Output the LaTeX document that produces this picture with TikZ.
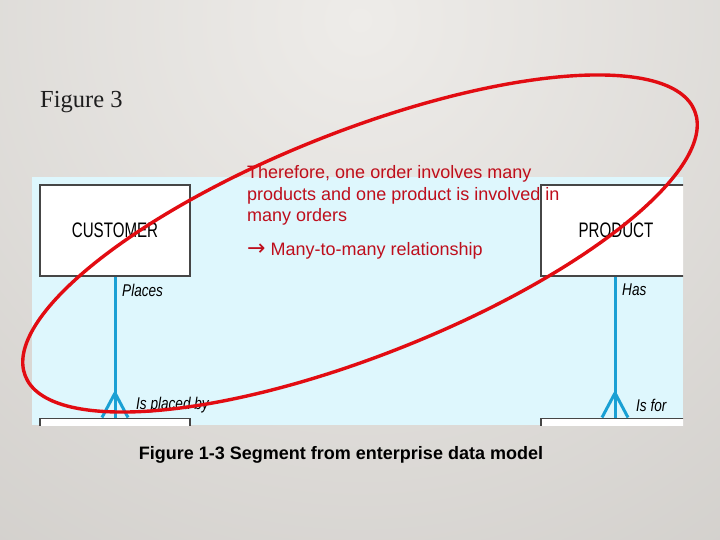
\documentclass[tikz,border=0pt]{standalone}
\usepackage{fontspec}
\setmainfont{Liberation Sans}
\newfontfamily\timesface{Liberation Serif}
\newfontfamily\arrowface{DejaVu Sans}
\newfontfamily\narrowface[FakeStretch=0.72]{Liberation Sans}
\newfontfamily\narrowit[FakeStretch=0.8]{Liberation Sans Italic}
\usetikzlibrary{calc}
\definecolor{bgin}{RGB}{238,236,233}
\definecolor{bgout}{RGB}{201,198,194}
\definecolor{panelblue}{RGB}{222,247,253}
\definecolor{relblue}{RGB}{26,160,212}
\definecolor{notered}{RGB}{190,14,28}
\definecolor{ringred}{RGB}{226,12,18}
\definecolor{boxgray}{RGB}{70,70,70}
\definecolor{figtext}{RGB}{30,30,30}

\begin{document}
\begin{tikzpicture}[x=1pt,y=-1pt,
    entity/.style={draw=boxgray,line width=1.3pt,fill=white,minimum width=150pt,
      minimum height=91pt,inner sep=0pt,font=\narrowface\fontsize{21}{21}\selectfont},
    relline/.style={draw=relblue,line width=3pt},
    rolelbl/.style={anchor=west,inner sep=0pt,font=\narrowit\fontsize{17}{17}\selectfont},
    note/.style={anchor=base west,inner sep=0pt,text=notered,font=\fontsize{18}{21}\selectfont},
    ring/.style={draw=ringred,line width=3.4pt}]
  \useasboundingbox (0,0) rectangle (720,540);
  % background
  \fill[bgout] (0,0) rectangle (720,540);
  \begin{scope}
    \clip (0,0) rectangle (720,540);
    \shade[inner color=bgin,outer color=bgout] (360,20) circle (900);
  \end{scope}
  \node[anchor=base west,inner sep=0pt,text=figtext,font=\timesface\fontsize{24.5}{24.5}\selectfont] (fig) at (40,108) {Figure 3};
  % data model panel
  \fill[panelblue] (32,177) rectangle (683,425);
  \begin{scope}
    \clip (32,177) rectangle (683,425);
    \coordinate (custfoot) at (115,393);
    \coordinate (prodfoot) at (615,393);
    \node[entity] (cust) at (115,230.5) {CUSTOMER};
    \node[entity] (prod) at (616,230.5) {PRODUCT};
    \node[entity,anchor=north] (ord) at (115,417.5) {};
    \node[entity,anchor=north] (ordline) at (616,417.5) {};
    \draw[relline] (cust.south) -- (custfoot);
    \draw[relline] (custfoot) -- ($(ord.north)+(-13,0)$);
    \draw[relline] (custfoot) -- (ord.north);
    \draw[relline] (custfoot) -- ($(ord.north)+(13,0)$);
    \draw[relline] (prod.south -| prodfoot) -- (prodfoot);
    \draw[relline] (prodfoot) -- ($(ordline.north -| prodfoot)+(-13,0)$);
    \draw[relline] (prodfoot) -- (ordline.north -| prodfoot);
    \draw[relline] (prodfoot) -- ($(ordline.north -| prodfoot)+(13,0)$);
  \end{scope}
  \node[rolelbl] (places) at (122,290) {Places};
  \node[rolelbl] (placedby) at (136,405) {Is placed by};
  \node[rolelbl] (has) at (622,290) {Has};
  \node[rolelbl] (isfor) at (636,405) {Is for};
  % note
  \node[note] (why1) at (247,179) {Therefore, one order involves many};
  \node[note] (why2) at (247,200.5) {products and one product is involved in};
  \node[note] (why3) at (247,222) {many orders};
  \node[note] (mm) at (247,255) {{\arrowface\fontsize{22}{22}\selectfont →}\ Many-to-many relationship};
  \draw[ring,rotate around={21.6:(360,243.5)}] (360,243.5) ellipse [x radius=360,y radius=112];
  \node[anchor=base,inner sep=0pt,font=\bfseries\fontsize{18}{18}\selectfont] (caption) at (341,459) {Figure 1-3 Segment from enterprise data model};
\end{tikzpicture}
\end{document}
